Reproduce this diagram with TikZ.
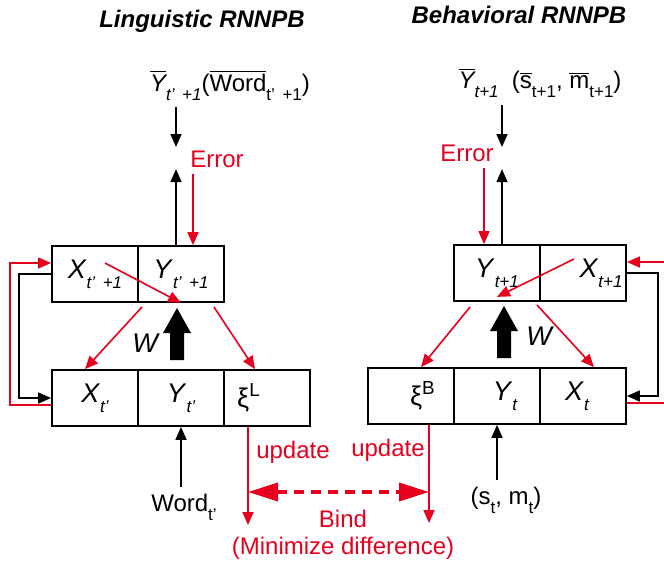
\documentclass[tikz,border=0pt]{standalone}
\usepackage{fontspec}
\setmainfont{Liberation Sans}
\usetikzlibrary{arrows.meta,calc}
\definecolor{errred}{RGB}{230,0,30}
\newcommand{\lsub}[1]{\raisebox{-0.7ex}{\fontsize{8.5}{9}\selectfont #1}}

\begin{document}
\begin{tikzpicture}[x=0.5pt,y=-0.5pt,
  cell/.style={draw,line width=0.9pt,minimum width=43pt,minimum height=28pt,inner sep=0pt,font=\fontsize{13.5}{15}\selectfont},
  lbl/.style={font=\fontsize{12}{13.5}\selectfont},
  blk/.style={line width=0.8pt,-{Triangle[length=6.5pt,width=5.5pt]}},
  rdarr/.style={errred,line width=0.8pt,-{Triangle[length=6.5pt,width=5.5pt]}},
  rdline/.style={errred,line width=0.8pt}]
  \useasboundingbox (0,0) rectangle (664,563);

  % titles
  \node[font=\fontsize{12}{14}\selectfont\bfseries\itshape] (ltitle) at (202,21) {Linguistic RNNPB};
  \node[font=\fontsize{12}{14}\selectfont\bfseries\itshape] (rtitle) at (519,15) {Behavioral RNNPB};

  % linguistic net
  \node[cell] (ltopX) at (95,274) {\textit{X}\lsub{\itshape t' \,+1}};
  \node[cell] (ltopY) at (181,274) {\textit{Y}\lsub{\itshape t' \,+1}};
  \node[cell] (lbotX) at (95,398) {\textit{X}\lsub{\itshape t'}};
  \node[cell] (lbotY) at (181,398) {\textit{Y}\lsub{\itshape t'}};
  \node[cell] (lbotP) at (267,398) {\hspace*{-18pt}ξ\textsuperscript{L}};

  % behavioral net
  \node[cell] (rtopY) at (497,273) {\textit{Y}\lsub{\itshape t+1}};
  \node[cell] (rtopX) at (583,273) {\hspace*{18pt}\textit{X}\lsub{\itshape t+1}};
  \node[cell] (rbotP) at (411,396) {\hspace*{12pt}ξ\textsuperscript{B}};
  \node[cell] (rbotY) at (497,396) {\hspace*{8pt}\textit{Y}\lsub{\itshape t}};
  \node[cell] (rbotX) at (583,396) {\hspace*{-6pt}\textit{X}\lsub{\itshape t}};

  % targets, inputs, errors
  \node[lbl] (ltgt) at (230,85) {$\overline{\mbox{\itshape Y}}$\lsub{\itshape t' \,+1}($\overline{\mbox{Word}}$\lsub{t' \,+1})};
  \node[lbl] (rtgt) at (540,83) {$\overline{\mbox{\itshape Y}}$\lsub{\itshape t+1}\ \ ($\overline{\mbox{s}}$\lsub{t+1}, $\overline{\mbox{m}}$\lsub{t+1})};
  \node[lbl,text=errred] (lerr) at (217,159) {Error};
  \node[lbl,text=errred] (rerr) at (467,153) {Error};
  \node[lbl] (lword) at (184,507) {Word\lsub{t'}};
  \node[lbl] (rin) at (506,500) {(s\lsub{t}, m\lsub{t})};
  \node[font=\fontsize{13.5}{15}\selectfont\itshape] (lW) at (145,343) {W};
  \node[font=\fontsize{13.5}{15}\selectfont\itshape] (rW) at (539,336) {W};
  \node[lbl,text=errred] (lupd) at (293,452) {update};
  \node[lbl,text=errred] (rupd) at (388,450) {update};
  \node[lbl,text=errred,align=center] (bind) at (343,535) {Bind\\(Minimize difference)};

  \coordinate (lout) at (176,147);
  \coordinate (rout) at (502,147);
  \coordinate (lerrin) at ([xshift=6pt]ltopY.north);
  \coordinate (rerrin) at ([xshift=-6.5pt]rtopY.north);
  \coordinate (lend) at (248,525);
  \coordinate (rend) at (429,523);
  \coordinate (lmid) at (248,492);
  \coordinate (rmid) at (429,492);
  \coordinate (rinR) at (664,262);
  \coordinate (routR) at (664,403);

  % output / target arrows
  \draw[blk] (ltgt.south -| lout) -- (lout);
  \draw[blk] ([xshift=-2.5pt]ltopY.north) -- ++(0,-76);
  \draw[rdarr] (lerr.south -| lerrin) -- (lerrin);
  \draw[blk] (rtgt.south -| rout) -- (rout);
  \draw[blk] ([xshift=2.5pt]rtopY.north) -- ++(0,-75);
  \draw[rdarr] (rerr.south -| rerrin) -- (rerrin);

  % inputs
  \draw[blk] (lword.north -| lbotY.south) -- (lbotY.south);
  \draw[blk] (rin.north -| rbotY.south) -- (rbotY.south);

  % weights W
  \foreach \ax/\ay in {177/360, 504/358}
    \fill (\ax-7,\ay) -- (\ax-7,\ay-27) -- (\ax-14,\ay-27) -- (\ax,\ay-52)
          -- (\ax+14,\ay-27) -- (\ax+7,\ay-27) -- (\ax+7,\ay) -- cycle;

  % context loops
  \draw[blk] (ltopX.west) -- ++(-32,0) |- (lbotX.west);
  \draw[rdarr] ([yshift=-3.5pt]lbotX.west) -- ++(-41,0) |- ([yshift=5.5pt]ltopX.west);
  \draw[blk] (rtopX.east) -- ++(31,0) |- (rbotX.east);
  \draw[rdarr] (rinR) -- ([yshift=5.5pt]rtopX.east);
  \draw[rdline] ([yshift=-3.5pt]rbotX.east) -- (routR);

  % back-propagated error
  \draw[rdarr] ($(ltopX.center)+(10,-11)$) -- (ltopY.south);
  \draw[rdarr] ($(ltopY.south west)+(5,4)$) -- ($(lbotX.north)+(-10,0)$);
  \draw[rdarr] ($(ltopY.south east)+(-11,4)$) -- ($(lbotP.north)+(-12,0)$);
  \draw[rdarr] ($(rtopX.center)+(-9,-14)$) -- ($(rtopY.south)+(0,-5)$);
  \draw[rdarr] ($(rtopY.south west)+(17,5)$) -- ($(rbotP.north)+(10,0)$);
  \draw[rdarr] ($(rtopY.south east)+(-4,3)$) -- ($(rbotX.north)+(11,0)$);

  % PB update and binding
  \draw[rdarr] ([xshift=-9.5pt]lbotP.south) -- (lend);
  \draw[rdarr] ([xshift=9pt]rbotP.south) -- (rend);
  \draw[errred,line width=2pt,dash pattern=on 5pt off 3.5pt,
        {Triangle[length=15pt,width=9pt]}-{Triangle[length=15pt,width=9pt]}] (lmid) -- (rmid);
\end{tikzpicture}
\end{document}
